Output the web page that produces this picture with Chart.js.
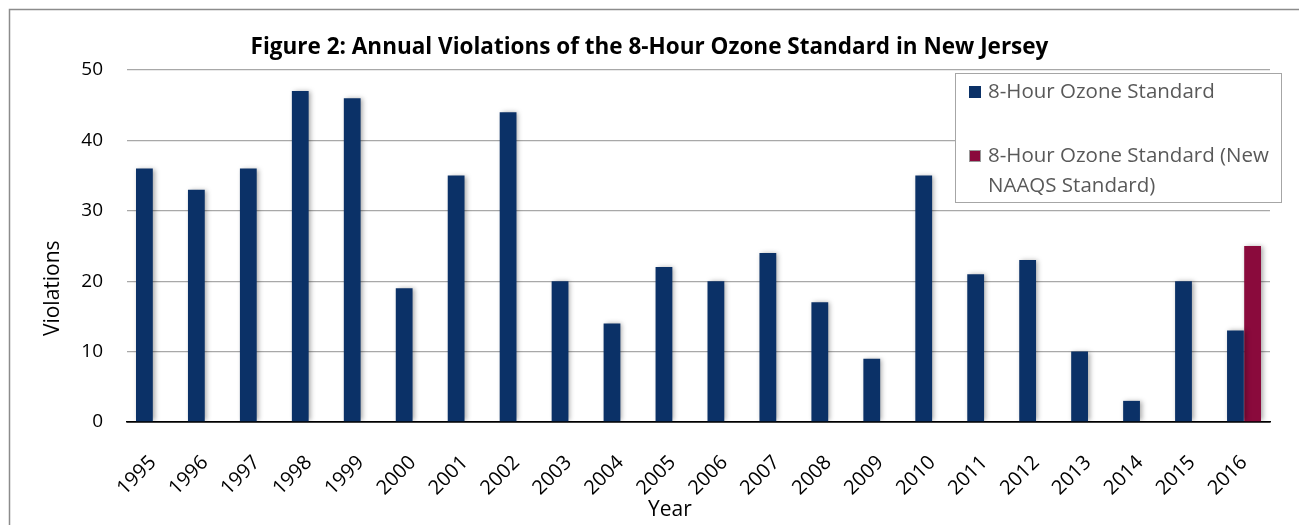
<!DOCTYPE html>
<html>
<head>
<meta charset="utf-8">
<script src="https://cdn.jsdelivr.net/npm/chart.js@4"></script>
<style>
  html, body { margin: 0; padding: 0; background: #ffffff; overflow: hidden; }
  #wrap { position: relative; width: 1299px; height: 525px; }
</style>
</head>
<body>
<div id="wrap"><canvas id="c" width="1299" height="525"></canvas></div>
<script>
const chartTitle = 'Figure 2: Annual Violations of the 8-Hour Ozone Standard in New Jersey';
const xAxisTitle = 'Year';
const yAxisTitle = 'Violations';
const years = ['1995','1996','1997','1998','1999','2000','2001','2002','2003','2004','2005',
               '2006','2007','2008','2009','2010','2011','2012','2013','2014','2015','2016'];
const standardLabel = '8-Hour Ozone Standard';
const standardValues = [36,33,36,47,46,19,35,44,20,14,22,20,24,17,9,35,21,23,10,3,20,13];
const naaqsLabel = '8-Hour Ozone Standard (New NAAQS Standard)';
const naaqsValues = [null,null,null,null,null,null,null,null,null,null,null,
                     null,null,null,null,null,null,null,null,null,null,25];
const yTicks = [0,10,20,30,40,50];

const FONT = '"Open Sans", "Noto Sans", sans-serif';
const BLUE = '#0B3167';
const RED = '#8A0A3C';

const decor = {
  id: 'decor',
  beforeDraw(chart) {
    const ctx = chart.ctx;
    ctx.save();
    ctx.strokeStyle = '#8c8c8c';
    ctx.lineWidth = 1.5;
    ctx.beginPath();
    ctx.moveTo(9.5, 530);
    ctx.lineTo(9.5, 9.5);
    ctx.lineTo(1310, 9.5);
    ctx.stroke();
    ctx.restore();
  },
  beforeDatasetsDraw(chart) {
    const ctx = chart.ctx;
    ctx.save();
    ctx.shadowColor = 'rgba(0,0,0,0.35)';
    ctx.shadowBlur = 5;
    ctx.shadowOffsetX = 2;
    ctx.shadowOffsetY = 0;
  },
  afterDatasetsDraw(chart) {
    chart.ctx.restore();
  },
  afterDraw(chart) {
    const ctx = chart.ctx;
    const area = chart.chartArea;
    // axis titles
    ctx.save();
    ctx.fillStyle = '#000';
    ctx.font = '21px ' + FONT;
    ctx.textAlign = 'center';
    ctx.textBaseline = 'middle';
    ctx.fillText(xAxisTitle, area.left + (area.right - area.left) * 0.475, 510);
    ctx.translate(53.5, area.top + (area.bottom - area.top) * 0.62);
    ctx.rotate(-Math.PI / 2);
    ctx.fillText(yAxisTitle, 0, 0);
    ctx.restore();

    // legend box
    const bx = area.right - 315, by = area.top + 3, bw = 326, bh = 129;
    ctx.save();
    ctx.fillStyle = '#ffffff';
    ctx.fillRect(bx, by, bw, bh);
    ctx.strokeStyle = '#a6a6a6';
    ctx.lineWidth = 1;
    ctx.strokeRect(Math.round(bx) + 0.5, Math.round(by) + 0.5, bw, bh);
    ctx.font = '20.5px ' + FONT;
    ctx.textBaseline = 'middle';
    ctx.textAlign = 'left';
    const rows = [19, 83];
    chart.data.datasets.forEach((ds, i) => {
      const cy = by + rows[i];
      ctx.fillStyle = ds.backgroundColor;
      ctx.fillRect(bx + 14, cy - 6, 12, 12);
      if (i === 1) {
        ctx.strokeStyle = '#9a9a9a';
        ctx.strokeRect(bx + 14.5, cy - 5.5, 11, 11);
      }
      ctx.fillStyle = '#595959';
      const words = ds.label.split(' ');
      const lines = [];
      let cur = '';
      words.forEach(w => {
        const t = cur ? cur + ' ' + w : w;
        if (ctx.measureText(t).width > 300 && cur) { lines.push(cur); cur = w; }
        else cur = t;
      });
      lines.push(cur);
      lines.forEach((ln, j) => ctx.fillText(ln, bx + 33, cy + j * 30));
    });
    ctx.restore();
  }
};

new Chart(document.getElementById('c'), {
  type: 'bar',
  data: {
    labels: years,
    datasets: [
      { label: standardLabel, data: standardValues, backgroundColor: BLUE,
        categoryPercentage: 0.66, barPercentage: 0.98, yAxisID: 'y' },
      { label: naaqsLabel, data: naaqsValues, backgroundColor: RED,
        categoryPercentage: 0.66, barPercentage: 0.98, yAxisID: 'y' }
    ]
  },
  options: {
    responsive: false,
    animation: false,
    devicePixelRatio: 1,
    layout: { padding: { left: 0, right: 0, top: 0, bottom: 0 } },
    plugins: {
      legend: { display: false },
      tooltip: { enabled: false },
      title: {
        display: true,
        text: chartTitle,
        color: '#000',
        font: { family: FONT, size: 22.5, weight: 'bold', lineHeight: 1.2 },
        padding: { top: 34, bottom: 9 }
      }
    },
    scales: {
      x: {
        grid: { display: false },
        border: { display: true, color: '#000', width: 1.5 },
        ticks: {
          color: '#000',
          font: { family: FONT, size: 20 },
          maxRotation: 45, minRotation: 45,
          padding: 21
        },
        afterFit(s) { s.height = 103; }
      },
      y: {
        position: 'left',
        min: 0, max: 50,
        afterBuildTicks(s) { s.ticks = yTicks.map(v => ({ value: v })); },
        grid: {
          drawTicks: false,
          color: ctx => ctx.tick && ctx.tick.value === 0 ? '#000000' : '#a8a8a8',
          lineWidth: ctx => ctx.tick && ctx.tick.value === 0 ? 1.5 : 1.2
        },
        border: { display: false },
        ticks: {
          color: '#000',
          font: { family: FONT, size: 19 },
          padding: 24
        },
        afterFit(s) { s.width = 127; }
      },
      yRight: {
        position: 'right',
        display: true,
        grid: { display: false, drawTicks: false },
        border: { display: false },
        ticks: { display: false },
        afterFit(s) { s.width = 29; }
      }
    }
  },
  plugins: [decor]
});
</script>
</body>
</html>
